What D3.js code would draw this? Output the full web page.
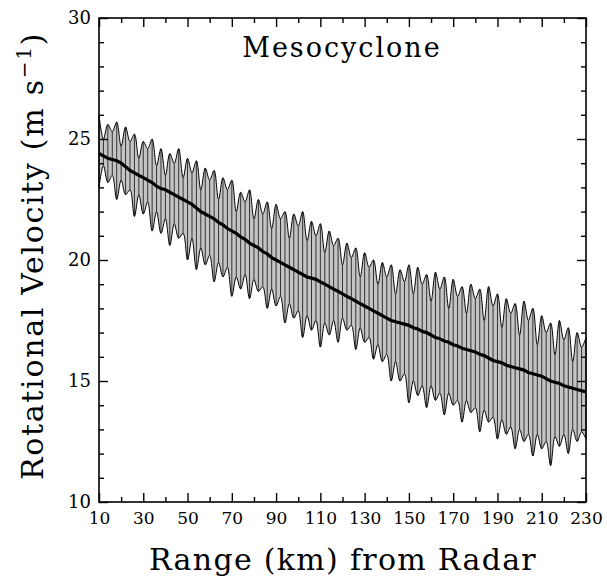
<!DOCTYPE html>
<html>
<head>
<meta charset="utf-8">
<script src="https://cdn.jsdelivr.net/npm/d3@7"></script>
<style>
  body { margin: 0; background: #fff; }
  text { font-family: "DejaVu Serif", serif; fill: #000; }
</style>
</head>
<body>
<div id="chart-area"></div>
<script>
// range samples (km), every 2 km
const RANGE_KM = [10,12,14,16,18,20,22,24,26,28,30,32,34,36,38,40,42,44,46,48,50,52,54,56,58,60,
  62,64,66,68,70,72,74,76,78,80,82,84,86,88,90,92,94,96,98,100,102,104,106,108,110,
  112,114,116,118,120,122,124,126,128,130,132,134,136,138,140,142,144,146,148,150,
  152,154,156,158,160,162,164,166,168,170,172,174,176,178,180,182,184,186,188,190,
  192,194,196,198,200,202,204,206,208,210,212,214,216,218,220,222,224,226,228,230]

// mean rotational velocity (m/s)
const MEAN_V = [24.4,24.3,24.2,24.15,24.1,24.0,23.85,23.7,23.6,23.5,23.4,23.3,23.2,23.05,22.95,22.9,
  22.8,22.7,22.6,22.5,22.4,22.3,22.15,22.0,21.9,21.8,21.7,21.55,21.45,21.3,21.2,21.1,20.95,20.85,
  20.7,20.6,20.5,20.35,20.25,20.1,20.0,19.9,19.8,19.7,19.6,19.5,19.4,19.3,19.25,19.2,19.1,19.0,
  18.9,18.8,18.7,18.6,18.5,18.4,18.3,18.2,18.1,18.0,17.9,17.8,17.7,17.6,17.5,17.45,17.4,17.35,
  17.3,17.2,17.15,17.05,17.0,16.9,16.8,16.75,16.65,16.6,16.5,16.45,16.35,16.3,16.25,16.2,16.1,
  16.05,15.95,15.85,15.8,15.75,15.65,15.6,15.55,15.5,15.45,15.35,15.3,15.25,15.2,15.1,15.0,14.95,
  14.9,14.8,14.75,14.7,14.65,14.6,14.55]

// upper envelope (m/s)
const UPPER_V = [26.0,25.0,25.6,25.3,25.7,24.7,25.5,24.9,25.2,24.2,24.9,24.6,25.0,23.9,24.6,23.5,
  24.4,24.0,24.6,23.4,24.2,23.6,24.1,22.9,23.8,23.3,23.7,22.5,23.4,22.9,23.3,22.0,22.8,22.4,22.9,
  21.7,22.5,21.9,22.4,21.3,22.3,21.7,22.0,20.9,21.9,21.4,22.0,20.8,21.6,21.0,21.5,20.3,21.2,20.6,
  20.9,19.8,20.7,20.1,20.5,19.3,20.3,19.7,20.0,19.0,19.9,19.3,19.8,18.6,19.6,19.1,19.8,18.6,19.7,
  19.0,19.4,18.3,19.5,18.8,19.3,18.0,19.2,18.5,18.9,17.8,19.0,18.4,18.8,17.5,18.9,18.1,18.6,17.2,
  18.4,17.8,18.2,16.9,18.3,17.5,18.0,16.5,17.7,17.0,17.4,16.1,17.5,16.7,17.2,15.8,17.0,16.4,16.8]

// lower envelope (m/s)
const LOWER_V = [23.0,23.9,23.2,23.5,22.5,23.3,22.7,22.9,21.8,22.7,21.9,22.4,21.2,22.0,21.1,21.7,
  20.6,21.5,20.9,21.1,20.0,20.9,19.6,20.5,19.8,20.2,19.1,19.9,19.3,19.7,18.5,19.3,18.8,19.4,18.4,
  19.2,18.7,18.9,18.0,18.8,18.1,18.5,17.4,18.2,17.6,17.9,16.8,17.7,17.1,17.5,16.4,17.4,16.9,17.5,
  16.6,17.6,17.1,17.3,16.3,17.2,16.6,16.8,15.9,16.5,15.8,16.1,15.0,15.8,15.0,15.3,14.1,15.0,14.4,
  14.8,13.9,14.8,14.2,14.5,13.6,14.5,14.0,14.2,13.3,14.2,13.7,13.9,12.9,13.8,13.3,13.5,12.6,13.4,
  12.8,13.1,12.2,13.0,12.5,12.8,11.9,12.8,12.2,12.5,11.5,12.7,12.3,12.8,12.0,13.0,12.5,12.9,12.6]

// tick values
const X_MAJOR = [10,30,50,70,90,110,130,150,170,190,210,230]
const X_MINOR = [20,40,60,80,100,120,140,160,180,200,220]
const Y_MAJOR = [10,15,20,25,30]
const Y_MINOR = [11,12,13,14,16,17,18,19,21,22,23,24,26,27,28,29]

const data = RANGE_KM.map((r, i) => ({r: r, mean: MEAN_V[i], hi: UPPER_V[i], lo: LOWER_V[i]}))

// MARGIN / DIMENSIONS
const MARGIN = {LEFT: 99, TOP: 18, RIGHT: 21, BOTTOM: 75}
const WIDTH = 607 - MARGIN.LEFT - MARGIN.RIGHT
const HEIGHT = 577 - MARGIN.TOP - MARGIN.BOTTOM

const svg = d3.select("#chart-area").append("svg")
    .attr("width", 607)
    .attr("height", 577)

const g = svg.append("g")
    .attr("transform", `translate(${MARGIN.LEFT}, ${MARGIN.TOP})`)

// scales
const x = d3.scaleLinear().domain([10, 230]).range([0, WIDTH])
const y = d3.scaleLinear().domain([10, 30]).range([HEIGHT, 0])

// --- + band: grey fill, vertical hatch, envelopes
const area = d3.area()
    .curve(d3.curveCatmullRom)
    .x(d => x(d.r))
    .y0(d => y(d.lo))
    .y1(d => y(d.hi))
g.append("path")
    .datum(data)
    .attr("d", area)
    .attr("fill", "#c4c4c4")

g.selectAll(".hatch")
    .data(data)
    .enter()
    .append("line")
    .attr("class", "hatch")
    .attr("x1", d => x(d.r))
    .attr("x2", d => x(d.r))
    .attr("y1", d => y(d.lo))
    .attr("y2", d => y(d.hi))
    .attr("stroke", "#222")
    .attr("stroke-width", 0.9)

const upperLine = d3.line().curve(d3.curveCatmullRom).x(d => x(d.r)).y(d => y(d.hi))
const lowerLine = d3.line().curve(d3.curveCatmullRom).x(d => x(d.r)).y(d => y(d.lo))
g.append("path").datum(data).attr("d", upperLine)
    .attr("fill", "none").attr("stroke", "#000").attr("stroke-width", 1)
g.append("path").datum(data).attr("d", lowerLine)
    .attr("fill", "none").attr("stroke", "#000").attr("stroke-width", 1)

// --- + mean line
const meanLine = d3.line().x(d => x(d.r)).y(d => y(d.mean))
g.append("path").datum(data).attr("d", meanLine)
    .attr("fill", "none").attr("stroke", "#000").attr("stroke-width", 3.2)

// --- + axes (ticks point inward, mirrored on top/right)
function styleAxis(sel, size) {
    sel.select(".domain").remove()
    sel.selectAll("line").attr("stroke", "#000").attr("stroke-width", 1.4)
    sel.selectAll("text").attr("font-size", size).attr("font-family", "DejaVu Serif")
}

g.append("g")
    .attr("transform", `translate(0, ${HEIGHT})`)
    .call(d3.axisBottom(x).tickValues(X_MAJOR).tickSizeInner(-9).tickSizeOuter(0).tickPadding(10))
    .call(s => styleAxis(s, "17px"))
g.append("g")
    .attr("transform", `translate(0, ${HEIGHT})`)
    .call(d3.axisBottom(x).tickValues(X_MINOR).tickSizeInner(-5).tickSizeOuter(0).tickFormat(""))
    .call(s => styleAxis(s, "17px"))
g.append("g")
    .call(d3.axisTop(x).tickValues(X_MAJOR).tickSizeInner(-9).tickSizeOuter(0).tickFormat(""))
    .call(s => styleAxis(s, "17px"))
g.append("g")
    .call(d3.axisTop(x).tickValues(X_MINOR).tickSizeInner(-5).tickSizeOuter(0).tickFormat(""))
    .call(s => styleAxis(s, "17px"))

g.append("g")
    .call(d3.axisLeft(y).tickValues(Y_MAJOR).tickSizeInner(-9).tickSizeOuter(0).tickPadding(8))
    .call(s => styleAxis(s, "18px"))
g.append("g")
    .call(d3.axisLeft(y).tickValues(Y_MINOR).tickSizeInner(-5).tickSizeOuter(0).tickFormat(""))
    .call(s => styleAxis(s, "18px"))
g.append("g")
    .attr("transform", `translate(${WIDTH}, 0)`)
    .call(d3.axisRight(y).tickValues(Y_MAJOR).tickSizeInner(-9).tickSizeOuter(0).tickFormat(""))
    .call(s => styleAxis(s, "18px"))
g.append("g")
    .attr("transform", `translate(${WIDTH}, 0)`)
    .call(d3.axisRight(y).tickValues(Y_MINOR).tickSizeInner(-5).tickSizeOuter(0).tickFormat(""))
    .call(s => styleAxis(s, "18px"))

// --- + frame
g.append("rect")
    .attr("width", WIDTH)
    .attr("height", HEIGHT)
    .attr("fill", "none")
    .attr("stroke", "#000")
    .attr("stroke-width", 1.6)

// --- + panel title
g.append("text")
    .attr("x", 342 - MARGIN.LEFT)
    .attr("y", 57 - MARGIN.TOP)
    .attr("font-size", "27px")
    .attr("letter-spacing", "2px")
    .attr("text-anchor", "middle")
    .text("Mesocyclone")

// --- + x axis label
svg.append("text")
    .attr("x", 343)
    .attr("y", 570)
    .attr("font-size", "30px")
    .attr("letter-spacing", "1.3px")
    .attr("text-anchor", "middle")
    .text("Range (km) from Radar")

// --- + y axis label
const yl = svg.append("text")
    .attr("transform", "translate(43, 256) rotate(-90)")
    .attr("font-size", "30px")
    .attr("letter-spacing", "1.7px")
    .attr("text-anchor", "middle")
yl.append("tspan").text("Rotational Velocity (m s")
yl.append("tspan").attr("font-size", "20px").attr("dy", "-12").text("\u22121")
yl.append("tspan").attr("dy", "12").text(")")
</script>
</body>
</html>
